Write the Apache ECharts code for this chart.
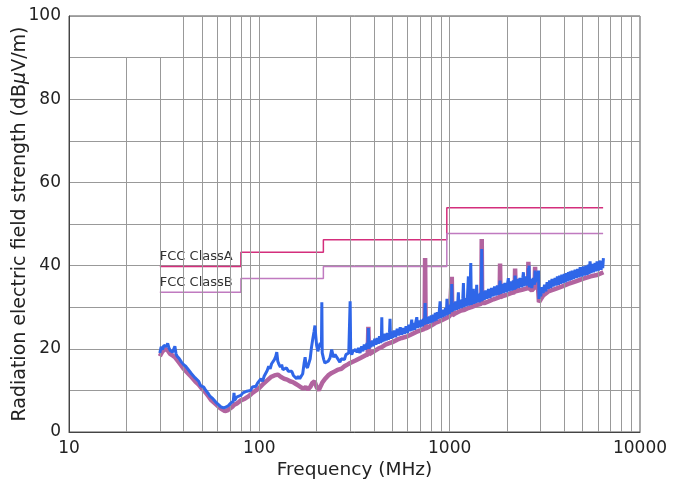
<!DOCTYPE html>
<html><head><meta charset="utf-8">
<script src="https://cdn.jsdelivr.net/npm/echarts@6/dist/echarts.min.js"></script>
<style>html,body{margin:0;padding:0;background:#fff}#c{width:683px;height:484px}</style>
</head><body><div id="c"></div>
<script>
// ---- data ----
const xTickLabels = [10, 100, 1000, 10000];
const yTicks = [0, 20, 40, 60, 80, 100];
const gridFreqFull = [40,50,60,70,80,90,100,200,300,400,500,600,700,800,900,1000,2000,3000,4000,5000,6000,7000,8000,9000];
const gridFreqShort = [20,30];

const classAFreq = [30, 80, 217, 966, 6400];
const classAVal  = [39.8, 43.2, 46.2, 53.9];
const classBFreq = [30, 80, 217, 966, 6400];
const classBVal  = [33.6, 36.9, 39.8, 47.7];

// blue trace, 30-332 MHz
const blueFreqLow = [30,30.5,31,31.5,32,32.5,33,33.5,34,34.5,35,35.5,36,36.5,37,38,39,40,41,42,43,44,45,46,47,48,49,50,51,52,53,54,55,56,57,58,59,60,61,62,63,64,65,66,67,68,69,70,71,72,73,73.6,74.2,75,76,77,78,80,82,84,86,88,90,92,94,96,98,100,102,104,106,108,110,112,114,116,118,120,122,123.5,125,127,129,131,133,136,139,142,145,148,151,154,157,160,163,166,169,172,174,176,179,182,185,188,191,194,196,198,200,203,206,209,212,213,214,218,221,225,230,235,240,245,250,255,260,265,270,275,280,285,290,295,298,300,302,306,310,315,320,326,332];
const blueValLow = [19.0,20.5,19.8,20.8,21.2,20.6,21.3,20.2,19.6,20.0,19.2,19.6,20.6,18.8,18.2,17.6,16.8,16.2,15.8,15.2,14.8,14.0,13.6,13.0,12.6,12.2,11.2,11.6,10.8,10.2,9.8,9.2,8.6,8.2,8.0,7.6,7.2,7.0,6.6,6.4,6.0,6.2,5.8,5.6,6.0,5.8,6.4,6.6,7.0,7.2,7.4,9.4,7.6,7.8,8.4,8.0,8.6,8.8,9.4,9.0,9.8,10.2,10.0,10.8,11.2,11.0,11.8,12.2,12.8,12.2,13.4,13.8,14.8,15.8,15.2,16.4,16.6,17.4,18.2,19.2,17.0,16.2,15.6,16.2,15.0,14.8,15.4,14.6,14.2,14.6,13.6,13.8,12.8,13.4,12.8,13.2,14.0,16.6,18.0,16.0,15.4,15.8,17.6,20.4,22.4,24.2,25.6,23.0,20.8,19.4,20.6,21.4,20.4,31.2,19.0,17.4,16.6,16.2,17.0,17.8,19.8,18.0,18.6,18.2,17.4,16.8,17.6,18.0,17.4,18.6,18.2,19.0,18.6,31.4,19.2,18.6,19.4,19.0,19.8,19.2,20.2];
// blue trace, 338-6423 MHz
const blueFreqHigh = [338,345,350,356,362,368,372,374,376,380,385,392,398,404,410,416,422,428,434,438,440,442,446,452,458,464,470,476,483,486,489,495,500,510,520,530,540,550,560,570,580,590,600,610,620,628,632,636,645,655,665,672,678,690,700,710,720,730,738,743,748,760,770,780,790,800,810,820,830,840,850,860,870,882,891,898,910,920,930,940,950,960,968,975,985,995,1010,1020,1026,1032,1045,1060,1075,1090,1105,1111,1118,1135,1155,1172,1181,1190,1205,1220,1240,1254,1262,1278,1291,1300,1318,1332,1342,1360,1375,1387,1396,1410,1430,1450,1466,1474,1482,1500,1520,1545,1570,1600,1630,1660,1690,1720,1750,1780,1810,1830,1840,1850,1880,1915,1950,1990,2020,2034,2048,2085,2119,2160,2195,2207,2220,2260,2297,2340,2390,2425,2440,2455,2500,2545,2580,2592,2603,2612,2625,2660,2699,2750,2795,2811,2825,2865,2900,2930,2945,2975,3010,3048,3100,3150,3200,3250,3301,3350,3400,3450,3500,3580,3630,3680,3730,3780,3830,3883,3940,4000,4050,4100,4150,4206,4260,4300,4350,4400,4480,4560,4630,4700,4770,4850,4940,5041,5120,5200,5280,5350,5400,5466,5530,5600,5700,5807,5880,5950,6050,6168,6250,6300,6370,6423];
const blueValHigh = [19.0,20.6,19.4,21.0,19.8,21.4,20.2,25.0,20.0,21.8,20.4,22.0,20.6,22.4,21.0,22.6,21.2,23.0,21.4,23.0,27.6,21.6,23.4,21.8,23.6,22.0,23.8,22.2,24.0,27.2,22.4,24.2,22.6,24.4,22.8,24.8,23.2,25.2,23.4,25.0,23.6,25.4,23.8,25.8,24.2,26.0,27.0,24.4,26.2,24.6,26.6,27.6,25.0,26.8,25.2,27.0,25.4,27.2,25.8,31.0,26.0,27.6,26.0,27.8,26.2,28.0,26.4,28.2,26.6,28.6,26.8,28.8,27.2,29.0,31.4,27.4,29.2,27.6,29.4,27.8,29.8,28.0,32.0,28.2,30.2,28.4,30.6,28.8,35.6,29.0,31.0,29.2,31.4,29.4,31.6,33.6,29.6,31.8,29.8,32.0,35.8,30.0,32.2,30.2,32.4,37.4,30.4,32.6,40.6,30.6,32.8,34.4,30.8,33.0,31.0,35.4,31.2,33.2,31.2,33.4,31.4,44.0,31.6,33.8,31.8,34.0,32.0,34.4,32.2,34.6,32.6,35.0,32.8,35.2,33.0,35.2,36.4,33.2,35.6,33.4,35.8,33.6,36.0,37.0,33.8,36.2,34.0,36.4,34.2,37.6,34.4,36.8,34.6,37.0,34.8,37.2,38.4,35.0,37.4,35.2,37.6,39.4,35.2,40.0,34.8,36.8,34.6,37.0,35.4,38.8,36.0,38.4,36.6,38.8,32.0,34.0,32.6,34.8,33.4,35.4,33.8,36.0,34.4,36.4,34.6,36.8,35.0,37.0,35.2,37.4,35.4,37.6,35.6,37.8,35.8,38.0,36.0,38.2,36.2,38.4,36.4,38.6,36.6,38.8,36.8,39.0,37.0,39.2,37.2,39.6,37.4,39.8,37.6,40.0,37.8,40.2,38.0,41.0,38.2,40.4,38.4,40.6,38.6,41.0,38.8,41.2,39.0,41.0,39.4,41.8];

const purpleFreq = [30,31,32,33,34,35,36,38,40,42,44,46,48,50,52,54,56,58,60,62,64,66,68,70,72,74,76,78,80,84,88,92,96,100,105,110,115,120,125,130,135,140,145,150,155,160,165,170,175,180,185,190,195,200,205,210,215,220,230,240,250,260,270,280,290,300,320,340,360,371,374,377,400,420,440,460,486,500,530,560,600,640,680,720,738,743,748,770,800,840,880,920,960,1000,1020,1026,1032,1060,1100,1150,1200,1254,1300,1350,1400,1466,1474,1482,1520,1600,1700,1830,1840,1850,1900,2000,2100,2195,2207,2220,2300,2400,2500,2580,2592,2603,2700,2795,2811,2825,2900,2930,2945,3000,3100,3300,3600,3900,4200,4600,5000,5500,6000,6423];
const purpleVal = [18.2,19.4,20.0,19.6,18.8,18.4,18.0,16.6,15.2,14.2,13.2,12.2,11.4,10.4,9.6,8.6,7.6,7.0,6.4,5.8,5.4,5.0,5.2,5.6,6.0,6.6,6.8,7.2,7.6,8.0,8.6,9.4,10.0,10.6,11.6,12.4,13.2,13.6,13.8,13.2,12.8,12.6,12.2,12.0,11.6,11.2,10.8,10.4,10.8,10.2,10.8,11.8,12.2,10.8,10.0,10.4,12.0,12.6,13.6,14.2,14.6,15.0,15.2,15.8,16.2,16.6,17.2,17.8,18.4,18.6,25.3,18.7,19.4,20.0,20.4,21.0,21.4,21.6,22.2,22.6,23.0,23.6,24.2,24.6,24.8,41.8,24.9,25.2,25.6,26.2,26.6,27.0,27.4,27.8,28.0,37.3,28.0,28.4,28.8,29.2,29.4,29.8,30.0,30.3,30.6,30.8,46.4,31.0,31.0,31.4,31.9,32.4,40.5,32.4,32.7,33.0,33.4,33.6,39.3,33.8,34.0,34.2,34.4,34.6,40.9,34.6,34.0,34.8,39.7,35.4,36.0,36.0,31.2,31.8,32.8,33.8,34.4,35.0,35.6,36.2,36.8,37.4,37.8,38.4];

// ---- build ----
function zip(f, v){ return f.map((x,i)=>[x, v[i]]); }
function steps(f, v){ const out=[]; for(let i=0;i<v.length;i++){ out.push([f[i],v[i]]); out.push([f[i+1],v[i]]); } return out; }
const font = 'DejaVu Sans';
function withLabel(pts, text){
  return pts.map((p,i)=> i===0 ? {value:p, label:{show:true, formatter:text, position:'top', align:'left', distance:3, color:'#333', fontSize:13, fontFamily:font}} : {value:p});
}
const gridLines = gridFreqFull.map(f=>[{coord:[f,0]},{coord:[f,100]}])
  .concat(gridFreqShort.map(f=>[{coord:[f,0]},{coord:[f,90]}]));
const blueData = zip(blueFreqLow, blueValLow).concat(zip(blueFreqHigh, blueValHigh));

const chart = echarts.init(document.getElementById('c'), null, {renderer:'canvas'});
chart.setOption({
  animation:false,
  backgroundColor:'#fff',
  grid:{left:69, right:43, top:16, bottom:52, containLabel:false, outerBoundsMode:'none', show:true, borderColor:'#555', borderWidth:1, backgroundColor:'transparent'},
  xAxis:{type:'log', logBase:10, min:10, max:10000,
    axisLine:{show:true, lineStyle:{color:'#444', width:1}},
    axisTick:{show:false},
    splitLine:{show:false},
    axisLabel:{color:'#222', fontSize:17, fontFamily:font, margin:8, formatter:v=>String(Math.round(v))},
    name:'Frequency (MHz)', nameLocation:'middle', nameGap:29, nameMoveOverlap:false,
    nameTextStyle:{color:'#222', fontSize:18.5, fontFamily:font}},
  yAxis:{type:'value', min:0, max:100, interval:10,
    axisLine:{show:true, lineStyle:{color:'#444', width:1}},
    axisTick:{show:false},
    splitLine:{show:true, lineStyle:{color:'#999', width:1}},
    axisLabel:{color:'#222', fontSize:17, fontFamily:font, margin:8, formatter:v=> (yTicks.indexOf(v)>=0 ? String(v) : '')},
    name:'Radiation electric field strength (dB{i|μ}V/m)', nameLocation:'middle', nameGap:39, nameMoveOverlap:false,
    nameTextStyle:{color:'#222', fontSize:19, fontFamily:font, rich:{i:{fontStyle:'italic', fontSize:19, fontFamily:font, color:'#222'}}}},
  series:[
    {type:'line', name:'grid', data:[[10,0]], symbol:'none', silent:true, z:1, lineStyle:{opacity:0},
      markLine:{silent:true, symbol:'none', label:{show:false}, lineStyle:{color:'#999', width:1, type:'solid'}, data:gridLines}},
    {type:'line', name:'FCC ClassA', data:withLabel(steps(classAFreq,classAVal),'FCC ClassA'), symbol:'circle', symbolSize:0, showSymbol:true, z:3,
      lineStyle:{color:'#d42e7c', width:1.5}, itemStyle:{color:'#d42e7c'}},
    {type:'line', name:'FCC ClassB', data:withLabel(steps(classBFreq,classBVal),'FCC ClassB'), symbol:'circle', symbolSize:0, showSymbol:true, z:3,
      lineStyle:{color:'#c07ac0', width:1.5}, itemStyle:{color:'#c07ac0'}},
    {type:'line', name:'purple', data:zip(purpleFreq,purpleVal), symbol:'none', z:4,
      lineStyle:{color:'#b2649f', width:4.5}},
    {type:'line', name:'blue', data:blueData, symbol:'none', z:5,
      lineStyle:{color:'#2f66e8', width:3}}
  ]
});
</script></body></html>
